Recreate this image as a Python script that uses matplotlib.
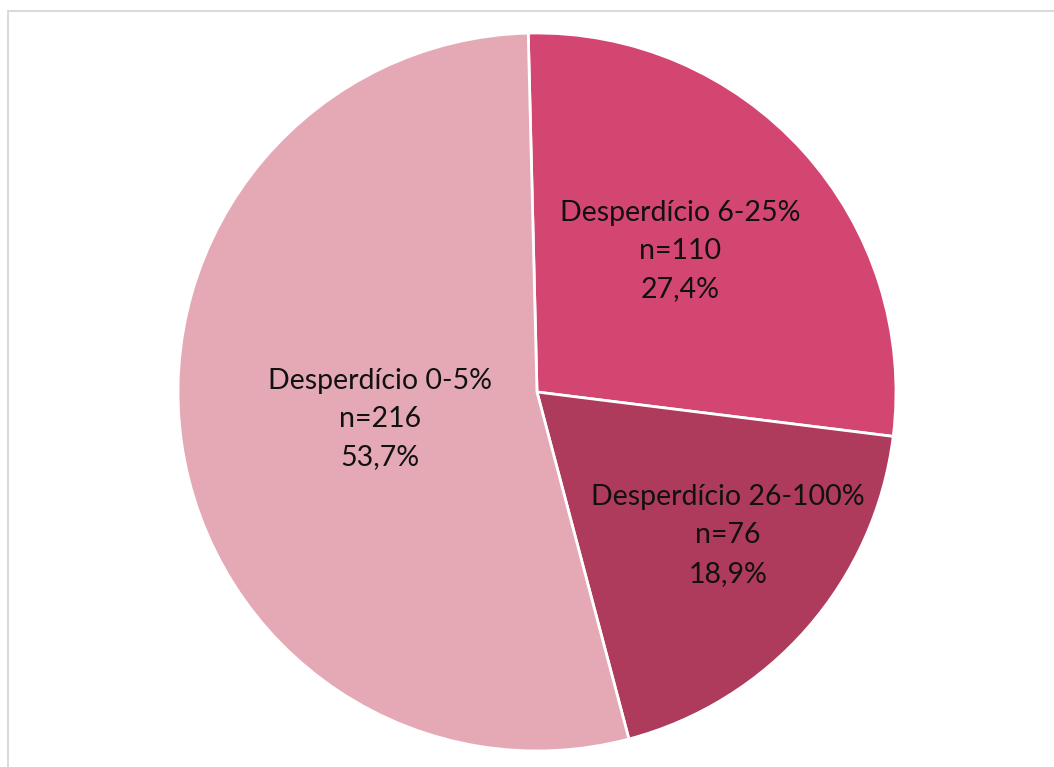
import matplotlib
matplotlib.use("Agg")
import matplotlib.pyplot as plt
from matplotlib.lines import Line2D
import numpy as np

labels = ["Desperdício 6-25%", "Desperdício 26-100%", "Desperdício 0-5%"]
counts = [110, 76, 216]
pcts = ["27,4%", "18,9%", "53,7%"]

colors = ["#D44672", "#AE3A5C", "#E5A9B5"]
label_r = [0.56, 0.665, 0.445]
label_dang = [2.3, 4.2, 1.7]   # small angular nudges (deg) from the wedge middle

W, H = 1054, 767
fig = plt.figure(figsize=(W / 100, H / 100), dpi=100)
fig.patch.set_facecolor("white")

# chart frame (only top/left edges visible in the reference)
fig.add_artist(Line2D([8 / W, 8 / W], [0, 1 - 10.5 / H], color="#D9D9D9", lw=1.4))
fig.add_artist(Line2D([8 / W, 1], [1 - 10.5 / H, 1 - 10.5 / H], color="#D9D9D9", lw=1.4))

ax = fig.add_axes([178 / W, 16 / H, 718 / W, 718 / H])
wedges, _ = ax.pie(counts, colors=colors, startangle=91.4, counterclock=False,
                   radius=1, wedgeprops=dict(edgecolor="white", linewidth=2))

for w, lab, n, p, r, da in zip(wedges, labels, counts, pcts, label_r, label_dang):
    ang = np.deg2rad((w.theta1 + w.theta2) / 2 + da)
    ax.text(r * np.cos(ang), r * np.sin(ang), f"{lab}\nn={n}\n{p}",
            ha="center", va="center", fontsize=20.5, family="Lato",
            color="#111111", linespacing=1.58)

ax.set_xlim(-1, 1)
ax.set_ylim(-1, 1)
ax.set_aspect("equal")
ax.set_axis_off()
fig.savefig("out.png", dpi=100)
